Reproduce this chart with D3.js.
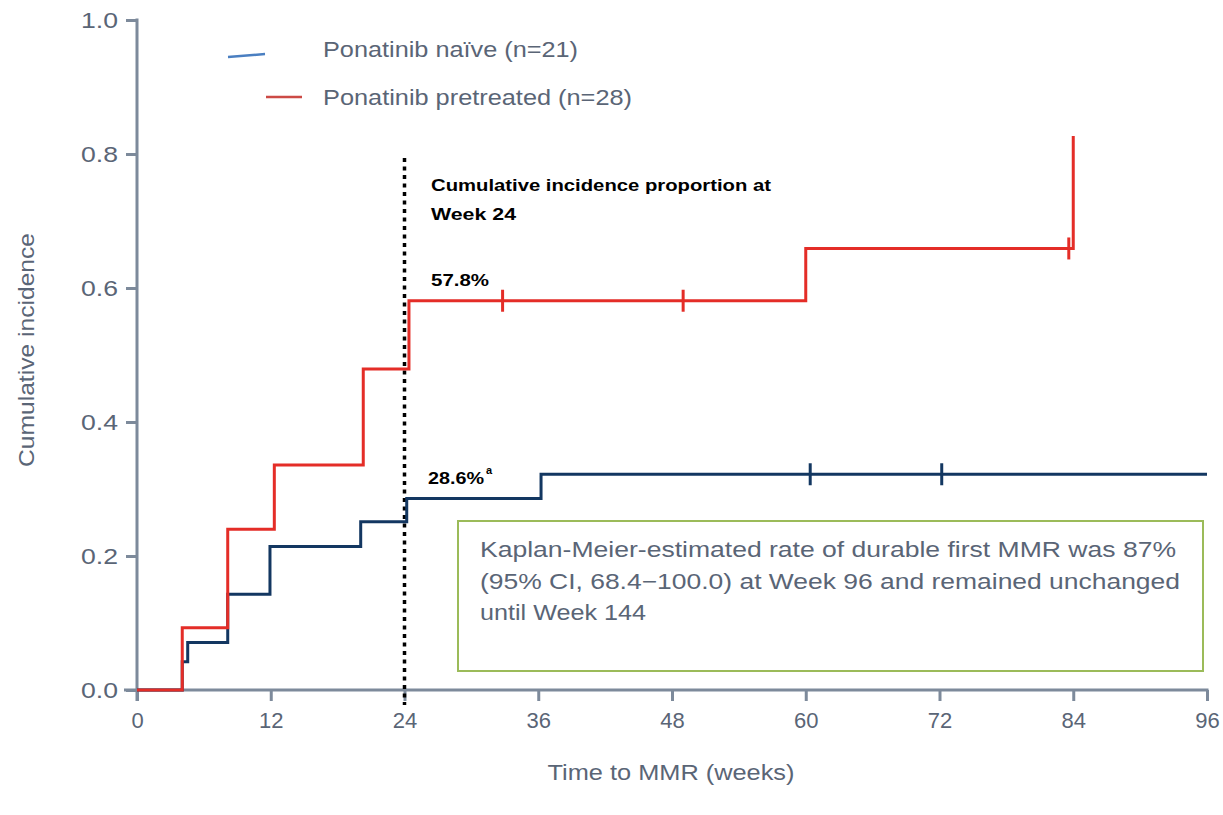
<!DOCTYPE html>
<html>
<head>
<meta charset="utf-8">
<script src="https://cdn.jsdelivr.net/npm/d3@7"></script>
<style>
  body { margin: 0; background: #fff; }
  text { font-family: "Liberation Sans", Arial, sans-serif; }
</style>
</head>
<body>
<div id="chart"></div>
<script>
// event times (weeks) and cumulative incidence
const naiveTimes = [0, 4.06, 4.55, 8.14, 11.93, 20.07, 24.2, 36.25, 96];
const naiveValues = [0, 0.042, 0.071, 0.143, 0.214, 0.251, 0.286, 0.322, 0.322];
const naiveCensored = [60.4, 72.2];

const pretreatedTimes = [0, 4.06, 8.14, 12.32, 20.3, 24.4, 60.0, 84.0];
const pretreatedValues = [0, 0.093, 0.240, 0.336, 0.479, 0.581, 0.659, 0.827];
const pretreatedCensored = [32.8, 49.0, 83.6];

const xTicks = [0, 12, 24, 36, 48, 60, 72, 84, 96];
const yTicks = [0, 0.2, 0.4, 0.6, 0.8, 1.0];

const axisColor = "#7d8a9b";
const labelColor = "#5a6576";
const redColor = "#e42d27";
const navyColor = "#133761";

const svg = d3.select("#chart").append("svg")
    .attr("width", 1223)
    .attr("height", 815);

const x = d3.scaleLinear().domain([0, 96]).range([137, 1207]);
const y = d3.scaleLinear().domain([0, 1]).range([690, 20]);

// y axis
const yAxis = svg.append("g")
    .attr("transform", `translate(${x(0)},0)`)
    .call(d3.axisLeft(y).tickValues(yTicks).tickFormat(d3.format(".1f")).tickSize(11).tickPadding(8).tickSizeOuter(0));
yAxis.select(".domain").remove();
yAxis.selectAll(".tick line").attr("stroke", axisColor).attr("stroke-width", 3);
yAxis.selectAll(".tick text").attr("fill", labelColor).style("font-size", "22px").attr("dy", "0.36em")
    .attr("textLength", 37).attr("lengthAdjust", "spacingAndGlyphs");
svg.append("line")
    .attr("x1", x(0)).attr("x2", x(0))
    .attr("y1", y(1) - 1.5).attr("y2", y(0) + 11)
    .attr("stroke", axisColor).attr("stroke-width", 3);

// x axis
const xAxis = svg.append("g")
    .attr("transform", `translate(0,${y(0)})`)
    .call(d3.axisBottom(x).tickValues(xTicks).tickSize(11).tickPadding(11).tickSizeOuter(0));
xAxis.select(".domain").remove();
xAxis.selectAll(".tick line").attr("stroke", axisColor).attr("stroke-width", 3);
xAxis.selectAll(".tick text").attr("fill", labelColor).style("font-size", "22px");
svg.append("line")
    .attr("x1", 124).attr("x2", x(96) + 1.5)
    .attr("y1", y(0)).attr("y2", y(0))
    .attr("stroke", axisColor).attr("stroke-width", 3);

// axis titles
svg.append("text")
    .attr("transform", `translate(34,${(233 + 467) / 2}) rotate(-90)`)
    .attr("text-anchor", "middle")
    .attr("fill", labelColor)
    .style("font-size", "22px")
    .attr("textLength", 234).attr("lengthAdjust", "spacingAndGlyphs")
    .text("Cumulative incidence");

svg.append("text")
    .attr("x", 671).attr("y", 780)
    .attr("text-anchor", "middle")
    .attr("fill", labelColor)
    .style("font-size", "22px")
    .attr("textLength", 247).attr("lengthAdjust", "spacingAndGlyphs")
    .text("Time to MMR (weeks)");

// week 24 reference line
svg.append("line")
    .attr("x1", x(24)).attr("x2", x(24))
    .attr("y1", 158).attr("y2", 705)
    .attr("stroke", "#000").attr("stroke-width", 3.5)
    .attr("stroke-dasharray", "4,4.5");

// step curves
const line = d3.line()
    .x(d => x(d[0]))
    .y(d => y(d[1]))
    .curve(d3.curveStepAfter);

const series = [
    {times: naiveTimes, values: naiveValues, censored: naiveCensored, color: navyColor},
    {times: pretreatedTimes, values: pretreatedValues, censored: pretreatedCensored, color: redColor}
];

series.forEach(s => {
    const pts = s.times.map((t, i) => [t, s.values[i]]);
    svg.append("path")
        .datum(pts)
        .attr("fill", "none")
        .attr("stroke", s.color)
        .attr("stroke-width", 3)
        .attr("d", line);

    const stepAt = t => s.values[d3.bisectRight(s.times, t) - 1];
    svg.selectAll(null)
        .data(s.censored)
        .enter().append("line")
        .attr("x1", d => x(d)).attr("x2", d => x(d))
        .attr("y1", d => y(stepAt(d)) - 11)
        .attr("y2", d => y(stepAt(d)) + 11)
        .attr("stroke", s.color)
        .attr("stroke-width", 3);
});

// annotations
const bold = svg.append("g").attr("fill", "#000")
    .style("font-family", "'Open Sans', 'Liberation Sans', sans-serif")
    .style("font-weight", "bold")
    .style("font-size", "17px");
bold.append("text").attr("x", 431).attr("y", 191)
    .attr("textLength", 340).attr("lengthAdjust", "spacingAndGlyphs")
    .text("Cumulative incidence proportion at");
bold.append("text").attr("x", 431).attr("y", 220)
    .attr("textLength", 85).attr("lengthAdjust", "spacingAndGlyphs")
    .text("Week 24");
bold.append("text").attr("x", 431).attr("y", 286)
    .attr("textLength", 58).attr("lengthAdjust", "spacingAndGlyphs")
    .text("57.8%");
bold.append("text").attr("x", 428).attr("y", 484)
    .attr("textLength", 56).attr("lengthAdjust", "spacingAndGlyphs")
    .text("28.6%");
bold.append("text").attr("x", 486).attr("y", 474)
    .style("font-size", "11px")
    .text("a");

// legend
svg.append("line")
    .attr("x1", 228).attr("y1", 57).attr("x2", 265).attr("y2", 54)
    .attr("stroke", "#4a7fc1").attr("stroke-width", 2.5);
svg.append("line")
    .attr("x1", 266).attr("y1", 97).attr("x2", 302).attr("y2", 97)
    .attr("stroke", "#cc4a45").attr("stroke-width", 2.5);
svg.append("text").attr("x", 323).attr("y", 57)
    .attr("fill", labelColor).style("font-size", "22px")
    .attr("textLength", 255).attr("lengthAdjust", "spacingAndGlyphs")
    .text("Ponatinib naïve (n=21)");
svg.append("text").attr("x", 323).attr("y", 105)
    .attr("fill", labelColor).style("font-size", "22px")
    .attr("textLength", 309).attr("lengthAdjust", "spacingAndGlyphs")
    .text("Ponatinib pretreated (n=28)");

// note box
svg.append("rect")
    .attr("x", 458).attr("y", 521)
    .attr("width", 745).attr("height", 150)
    .attr("fill", "#fff")
    .attr("stroke", "#9bbb59").attr("stroke-width", 2);
const noteLines = [
    ["Kaplan-Meier-estimated rate of durable first MMR was 87%", 696],
    ["(95% CI, 68.4\u2212100.0) at Week 96 and remained unchanged", 700],
    ["until Week 144", 166]
];
svg.selectAll(".note")
    .data(noteLines)
    .enter().append("text")
    .attr("class", "note")
    .attr("x", 480)
    .attr("y", (d, i) => 557 + i * 31.5)
    .attr("fill", labelColor)
    .style("font-size", "22px")
    .attr("textLength", d => d[1]).attr("lengthAdjust", "spacingAndGlyphs")
    .text(d => d[0]);
</script>
</body>
</html>
